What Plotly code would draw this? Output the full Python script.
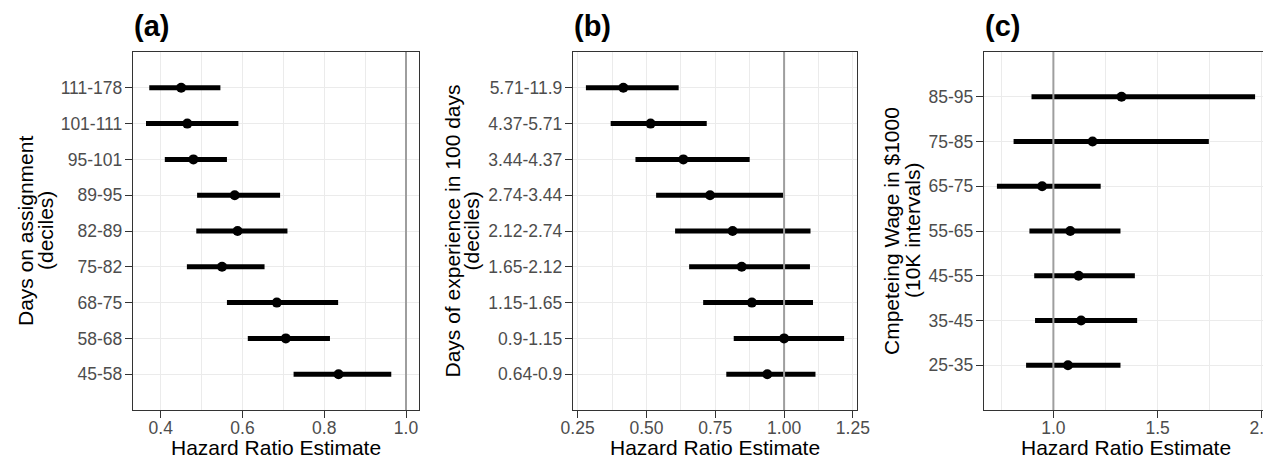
import plotly.graph_objects as go

FONT = "Liberation Sans, Arial, Helvetica, sans-serif"
REF_VALUE = 1.0

# ---------------- data (categories listed bottom -> top) ----------------
a_cats = ["45-58", "58-68", "68-75", "75-82", "82-89", "89-95", "95-101", "101-111", "111-178"]
a_est = [0.835, 0.706, 0.684, 0.550, 0.588, 0.581, 0.480, 0.465, 0.450]
a_lo = [0.725, 0.613, 0.562, 0.464, 0.487, 0.489, 0.410, 0.364, 0.372]
a_hi = [0.964, 0.814, 0.834, 0.654, 0.710, 0.692, 0.562, 0.590, 0.546]

b_cats = ["0.64-0.9", "0.9-1.15", "1.15-1.65", "1.65-2.12", "2.12-2.74",
          "2.74-3.44", "3.44-4.37", "4.37-5.71", "5.71-11.9"]
b_est = [0.939, 1.000, 0.883, 0.846, 0.813, 0.731, 0.634, 0.515, 0.416]
b_lo = [0.790, 0.817, 0.706, 0.655, 0.604, 0.535, 0.460, 0.370, 0.280]
b_hi = [1.114, 1.218, 1.105, 1.094, 1.096, 0.996, 0.875, 0.719, 0.617]

c_cats = ["25-35", "35-45", "45-55", "55-65", "65-75", "75-85", "85-95"]
c_est = [1.070, 1.133, 1.121, 1.081, 0.946, 1.188, 1.327]
c_lo = [0.869, 0.912, 0.908, 0.885, 0.729, 0.809, 0.895]
c_hi = [1.322, 1.402, 1.391, 1.322, 1.227, 1.746, 1.968]

panel_labels = ["(a)", "(b)", "(c)"]
x_title = "Hazard Ratio Estimate"
y_titles = [("Days on assignment", "(deciles)"),
            ("Days of experience in 100 days", "(deciles)"),
            ("Cmpeteing Wage in $1000", "(10K intervals)")]
x_dticks = [0.2, 0.25, 0.5]
x_tick0 = [0.4, 0.25, 1.0]
x_formats = [".1f", ".2f", ".1f"]

# ---------------- layout geometry (window pixels) ----------------
W, H = 1271, 460
PAGE_OFFSET = 8  # default page body margin before the figure
panel_px = [(133, 419), (573, 857), (984, 1268)]
plot_top, plot_bottom = 52, 410
ytitle_px = [(25, 45), (451.5, 470.5), (891, 912)]

def px_x(v):
    return (v - PAGE_OFFSET) / W

def px_y(v):
    return 1 - (v - PAGE_OFFSET) / H

panels = [
    (a_cats, a_est, a_lo, a_hi),
    (b_cats, b_est, b_lo, b_hi),
    (c_cats, c_est, c_lo, c_hi),
]

fig = go.Figure()
layout = dict(
    width=W, height=H,
    margin=dict(l=0, r=0, t=0, b=0, pad=0, autoexpand=False),
    paper_bgcolor="white", plot_bgcolor="white",
    showlegend=False,
    font=dict(family=FONT, color="#000000"),
)
annotations = []

for i, (cats, est, lo, hi) in enumerate(panels):
    k = "" if i == 0 else str(i + 1)
    xa, ya = "x" + k, "y" + k
    pos = list(range(len(cats)))

    # ggplot-like 5% expansion of the data range (incl. reference line)
    dmin = min(min(lo), REF_VALUE)
    dmax = max(max(hi), REF_VALUE)
    pad = 0.05 * (dmax - dmin)
    xr = [dmin - pad, dmax + pad]

    # interval bars
    fig.add_trace(go.Scatter(
        x=est, y=pos, mode="markers",
        marker=dict(size=1, color="rgba(0,0,0,0)"),
        error_x=dict(type="data", symmetric=False,
                     array=[h - e for h, e in zip(hi, est)],
                     arrayminus=[e - l for e, l in zip(est, lo)],
                     thickness=5, width=0, color="#000000"),
        xaxis=xa, yaxis=ya, hoverinfo="skip"))
    # reference line
    fig.add_trace(go.Scatter(
        x=[REF_VALUE, REF_VALUE], y=[-2, len(cats) + 1], mode="lines",
        line=dict(color="#9E9E9E", width=2),
        xaxis=xa, yaxis=ya, hoverinfo="skip"))
    # point estimates
    fig.add_trace(go.Scatter(
        x=est, y=pos, mode="markers",
        marker=dict(size=10, color="#000000"),
        xaxis=xa, yaxis=ya))

    x0, x1 = panel_px[i]
    common = dict(
        showline=True, mirror=True, linecolor="#333333", linewidth=1.4,
        ticks="outside", ticklen=7, tickwidth=1.4, tickcolor="#333333",
        tickfont=dict(family=FONT, size=17.5, color="#4D4D4D"),
        showgrid=True, gridcolor="#EBEBEB", gridwidth=1.4,
        zeroline=False, fixedrange=True, automargin=False,
    )
    layout["xaxis" + k] = dict(
        common,
        domain=[px_x(x0), px_x(x1)],
        anchor=ya, range=xr,
        tick0=x_tick0[i], dtick=x_dticks[i], tickformat=x_formats[i],
        ticklabelstandoff=-5,
        minor=dict(dtick=x_dticks[i] / 2, tick0=x_tick0[i], showgrid=True,
                   gridcolor="#EBEBEB", gridwidth=0.9, ticks=""),
    )
    layout["yaxis" + k] = dict(
        common,
        domain=[px_y(plot_bottom), px_y(plot_top)],
        anchor=xa, range=[-1, len(cats)],
        tickmode="array", tickvals=pos, ticktext=cats,
        ticklabelstandoff=-1,
    )

    # panel label
    annotations.append(dict(
        text="<b>%s</b>" % panel_labels[i], xref="paper", yref="paper",
        x=px_x(x0 - 1), y=px_y(26), xanchor="left", yanchor="middle",
        showarrow=False, font=dict(family=FONT, size=29, color="#000000")))
    # x title
    annotations.append(dict(
        text=x_title, xref="paper", yref="paper",
        x=px_x((x0 + x1) / 2), y=px_y(447), xanchor="center", yanchor="middle",
        showarrow=False, font=dict(family=FONT, size=21, color="#000000")))
    # y title, two lines
    for line, xc in zip(y_titles[i], ytitle_px[i]):
        annotations.append(dict(
            text=line, xref="paper", yref="paper", textangle=-90,
            x=px_x(xc), y=px_y((plot_top + plot_bottom) / 2),
            xanchor="center", yanchor="middle",
            showarrow=False, font=dict(family=FONT, size=21, color="#000000")))

layout["annotations"] = annotations
fig.update_layout(**layout)
fig.write_html("out.html")
